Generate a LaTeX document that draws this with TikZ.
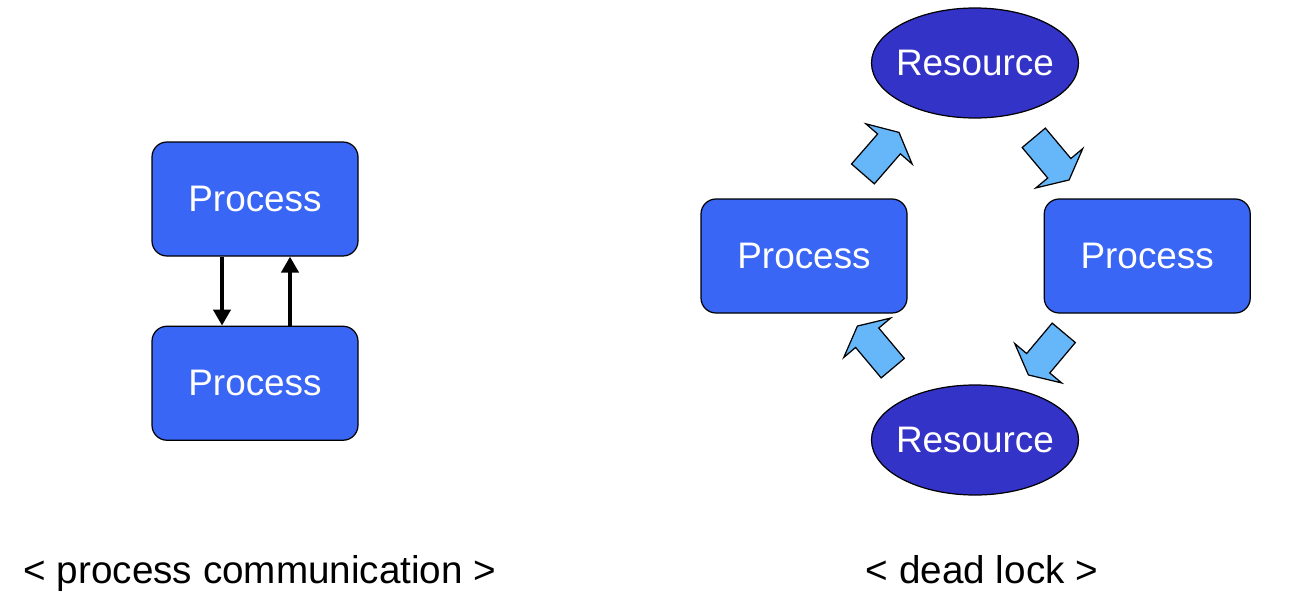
\documentclass[tikz,border=0pt]{standalone}
\usepackage{fontspec}
\setmainfont{Liberation Sans}
\usepackage{tikz}
\usetikzlibrary{shapes.geometric, shapes.arrows, arrows.meta, positioning}
\definecolor{procblue}{RGB}{58, 102, 245}
\definecolor{resblue}{RGB}{51, 51, 200}
\definecolor{flowblue}{RGB}{102, 182, 250}

\begin{document}
\begin{tikzpicture}[
    node distance=1.38cm and 2.72cm,
    process/.style={draw, line width=0.7pt, fill=procblue, text=white, rounded corners=0.3cm, minimum width=4.12cm, minimum height=2.28cm, font=\fontsize{21}{25}\selectfont},
    resource/.style={draw, line width=0.7pt, ellipse, fill=resblue, text=white, minimum width=4.14cm, minimum height=2.2cm, inner ysep=0pt, inner xsep=-0.2cm, font=\fontsize{21}{25}\selectfont},
    flow/.style={draw, line width=0.7pt, single arrow, fill=flowblue, inner xsep=0pt, inner ysep=0.29cm, minimum height=1.1cm, single arrow head extend=0.31cm, single arrow tip angle=127},
    arrow/.style={-{Triangle[length=0.32cm, width=0.34cm]}, line width=2.3pt},
    caption/.style={anchor=base, font=\fontsize{22}{26}\selectfont}
]
    \useasboundingbox (0,0) rectangle (25.84,-12.04);

    % Process communication
    \node[process] (procA) at (5.10,-3.98) {Process};
    \node[process, below=of procA] (procB) {Process};
    \draw[arrow] ([xshift=-0.66cm]procA.south) -- ([xshift=-0.66cm]procB.north);
    \draw[arrow] ([xshift=0.70cm]procB.north) -- ([xshift=0.70cm]procA.south);
    \node[caption] (capcomm) at (5.20,-11.67) {< process communication >};

    % Dead lock
    \node[process] (procL) at (16.08,-5.12) {Process};
    \node[process, right=of procL] (procR) {Process};
    \node[resource] (resTop) at (19.50,-1.26) {Resource};
    \node[resource] (resBot) at (19.50,-8.80) {Resource};
    \node[flow, rotate=49] (flowA) at (17.57,-3.12) {};
    \node[flow, rotate=-50] (flowB) at (20.98,-3.12) {};
    \node[flow, rotate=-130] (flowC) at (20.97,-7.02) {};
    \node[flow, rotate=130] (flowD) at (17.55,-7.00) {};
    \node[caption] (capdead) at (19.64,-11.67) {< dead lock >};
\end{tikzpicture}
\end{document}
